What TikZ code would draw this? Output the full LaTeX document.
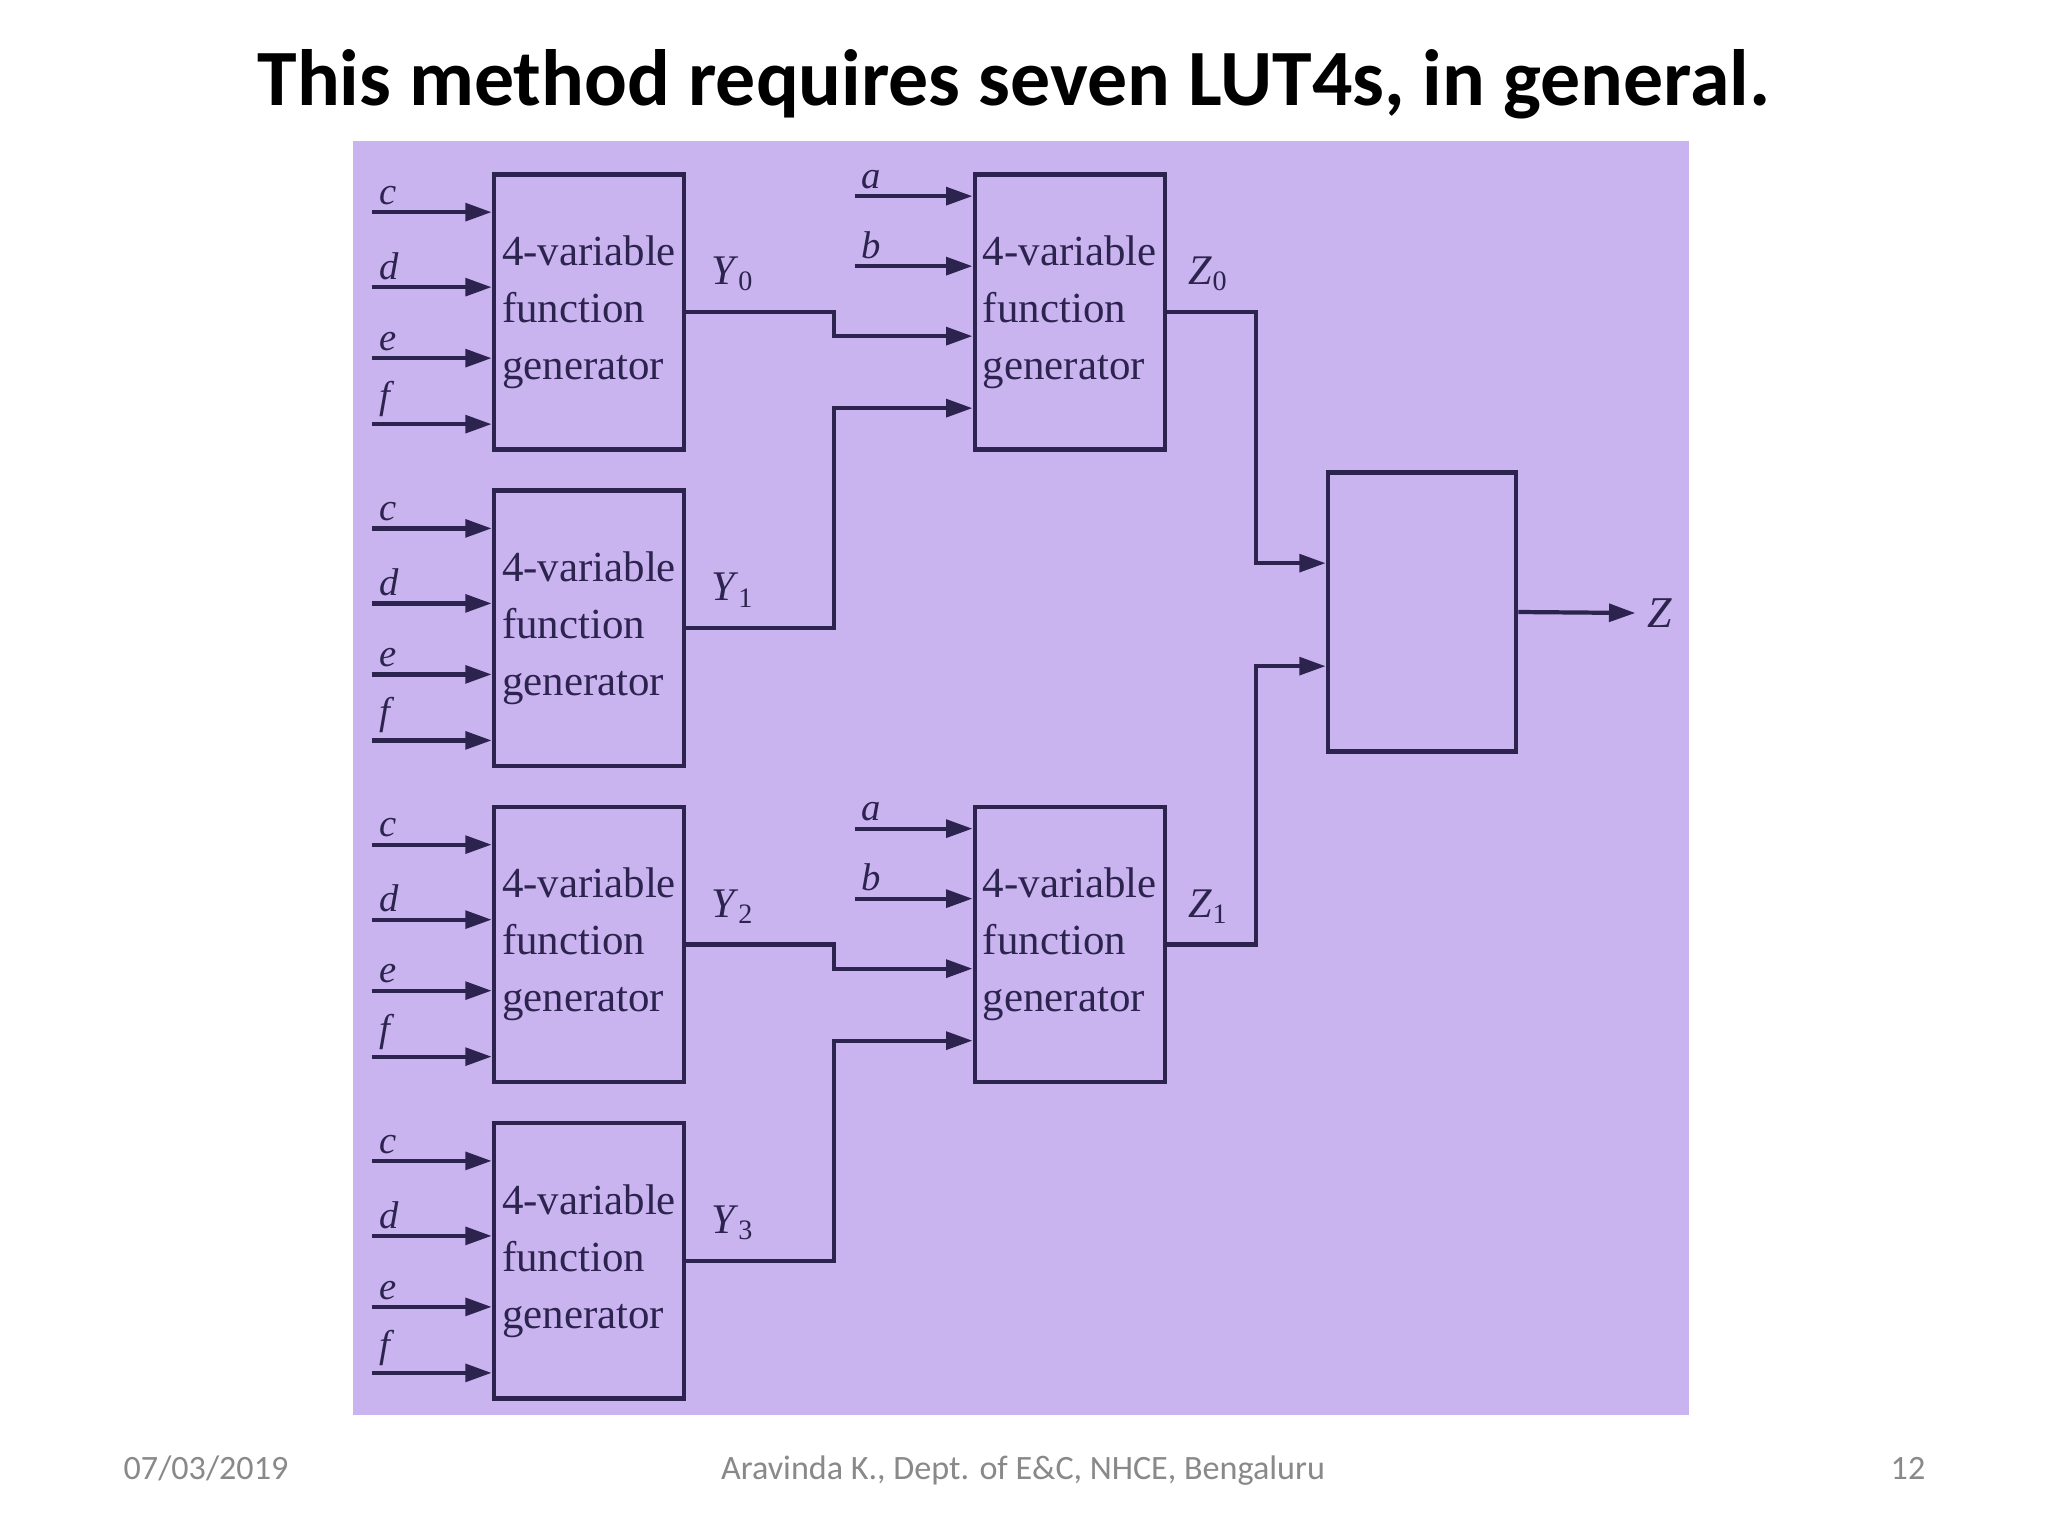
\documentclass[tikz,border=0pt]{standalone}
\usepackage{fontspec}
\setmainfont{Carlito}
\newfontfamily\bookfont{Liberation Serif}
\usetikzlibrary{arrows.meta, positioning, calc}
\definecolor{scanbg}{RGB}{201,180,240}
\definecolor{ink}{RGB}{44,36,78}
\definecolor{footgray}{RGB}{137,137,137}
\tikzstyle{arrow} = [line width=1.2pt, draw=ink, -{Triangle[length=7.5pt,width=5pt]}]
\newcommand{\sig}[2]{\textit{#1}\textsubscript{#2}}

\begin{document}
\begin{tikzpicture}[
  x=0.01cm, y=-0.01cm,
  node distance=0.365cm and 2.86cm,
  every node/.style={text=ink},
  fgen/.style={draw=ink, line width=1.3pt, rectangle, minimum width=1.9cm, minimum height=2.75cm, align=left, inner sep=0pt, font=\bookfont\fontsize{12.2}{16.2}\selectfont},
  mux/.style={draw=ink, line width=1.3pt, rectangle, minimum width=1.88cm, minimum height=2.79cm},
  inlbl/.style={font=\bookfont\itshape\fontsize{11}{13}\selectfont, anchor=south west, inner sep=1.5pt},
  outlbl/.style={font=\bookfont\fontsize{12}{14}\selectfont, anchor=west, inner sep=0pt},
  foot/.style={font=\fontsize{9.7}{12}\selectfont, text=footgray, anchor=base}
]
\useasboundingbox (0,0) rectangle (2048,1536);
\fill[white] (0,0) rectangle (2048,1536);
\fill[scanbg] (353,141) rectangle (1689,1415);

% Title and footer
\node[font=\bfseries\fontsize{22.7}{27}\selectfont, text=black] (title) at (1014,84) {This method requires seven LUT4s, in general.};
\node[foot] (date) at (206,1479) {07/03/2019};
\node[foot] (author) at (1023,1479) {Aravinda K., Dept. of E\&C, NHCE, Bengaluru};
\node[foot] (page) at (1908,1479) {12};

% Function generators
\node[fgen] (y0) at (589,312) {4-variable\\function\\generator};
\node[fgen, below=of y0] (y1) {4-variable\\function\\generator};
\node[fgen, below=of y1] (y2) {4-variable\\function\\generator};
\node[fgen, below=of y2] (y3) {4-variable\\function\\generator};
\node[fgen, right=of y0] (z0) {4-variable\\function\\generator};
\node[fgen, right=of y2] (z1) {4-variable\\function\\generator};
\node[mux] (mux) at (1422,612) {};

% Inputs c, d, e, f
\foreach \g in {y0,y1,y2,y3}{
  \foreach \v/\dy in {c/40,d/115,e/186,f/252}{
    \draw[arrow] ($(\g.north west)+(-120,\dy)$) node[inlbl]{\v} -- ($(\g.north west)+(0,\dy)$);
  }
}

% Inputs a, b
\foreach \g in {z0,z1}{
  \foreach \v/\dy in {a/24,b/94}{
    \draw[arrow] ($(\g.north west)+(-118,\dy)$) node[inlbl]{\v} -- ($(\g.north west)+(0,\dy)$);
  }
  \coordinate (\g-i3) at ($(\g.north west)+(0,164)$);
  \coordinate (\g-i4) at ($(\g.north west)+(0,236)$);
}
\coordinate (m-i1) at ($(mux.north west)+(0,93)$);
\coordinate (m-i2) at ($(mux.north west)+(0,196)$);

% Output labels
\node[outlbl] (ly0) at ($(y0.east)+(24,-38)$) {\sig{Y}{0}};
\node[outlbl] (ly1) at ($(y1.east)+(24,-38)$) {\sig{Y}{1}};
\node[outlbl] (ly2) at ($(y2.east)+(24,-38)$) {\sig{Y}{2}};
\node[outlbl] (ly3) at ($(y3.east)+(24,-38)$) {\sig{Y}{3}};
\node[outlbl] (lz0) at ($(z0.east)+(21,-38)$) {\sig{Z}{0}};
\node[outlbl] (lz1) at ($(z1.east)+(21,-38)$) {\sig{Z}{1}};
\node[font=\bookfont\itshape\fontsize{12.5}{14}\selectfont] (zout) at (1660,613) {Z};

% Wiring
\draw[arrow] (y0.east) -- ++(148,0) |- (z0-i3);
\draw[arrow] (y1.east) -- ++(148,0) |- (z0-i4);
\draw[arrow] (y2.east) -- ++(148,0) |- (z1-i3);
\draw[arrow] (y3.east) -- ++(148,0) |- (z1-i4);
\draw[arrow] (z0.east) -- ++(89,0) |- (m-i1);
\draw[arrow] (z1.east) -- ++(89,0) |- (m-i2);
\draw[arrow] (mux.east) -- (zout.west);
\end{tikzpicture}
\end{document}
